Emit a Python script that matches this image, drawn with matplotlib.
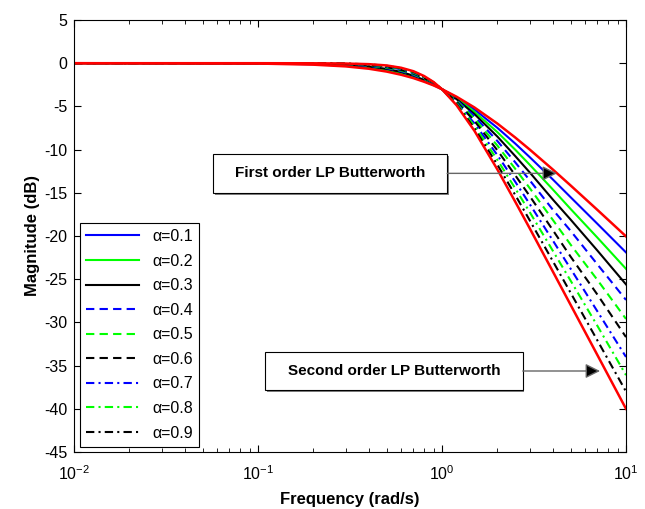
import matplotlib
matplotlib.use('Agg')
import matplotlib.pyplot as plt
from matplotlib.patches import Rectangle

plt.rcParams['font.family'] = ['Liberation Sans', 'DejaVu Sans']
plt.rcParams['mathtext.fontset'] = 'custom'
plt.rcParams['mathtext.rm'] = 'Liberation Sans'
plt.rcParams['axes.unicode_minus'] = False

# frequency points (rad/s)
w = [0.01, 0.1, 0.2, 0.3, 0.4, 0.5, 0.6, 0.7, 0.8, 0.9, 1.0,
     1.2, 1.5, 2.0, 2.5, 3.0, 4.0, 5.0, 7.0, 10.0]

# magnitude (dB)
first_order = [0, -0.04, -0.17, -0.37, -0.64, -0.97, -1.34, -1.73, -2.15, -2.57, -3.01,
               -3.88, -5.12, -6.99, -8.60, -10.0, -12.30, -14.15, -16.99, -20.04]
second_order = [0, 0, -0.01, -0.04, -0.11, -0.26, -0.53, -0.93, -1.49, -2.18, -3.01,
                -4.87, -7.82, -12.30, -16.03, -19.13, -24.10, -27.97, -33.80, -40.0]

alphas = [0.1, 0.2, 0.3, 0.4, 0.5, 0.6, 0.7, 0.8, 0.9]
mag_a01 = [0, -0.03, -0.12, -0.30, -0.54, -0.86, -1.22, -1.63, -2.08, -2.53, -3.01,
           -3.97, -5.36, -7.48, -9.30, -10.88, -13.45, -15.51, -18.6, -21.9]
mag_a02 = [0, -0.02, -0.09, -0.24, -0.46, -0.76, -1.11, -1.54, -2.00, -2.50, -3.01,
           -4.07, -5.62, -7.98, -10.01, -11.76, -14.61, -16.87, -20.2, -23.8]
mag_a03 = [0, -0.01, -0.07, -0.19, -0.38, -0.66, -1.02, -1.45, -1.94, -2.46, -3.01,
           -4.16, -5.88, -8.49, -10.75, -12.65, -15.77, -18.1, -21.7, -25.6]
mag_a04 = [0, -0.01, -0.05, -0.15, -0.32, -0.58, -0.93, -1.37, -1.87, -2.42, -3.01,
           -4.26, -6.14, -9.01, -11.47, -13.56, -16.95, -19.4, -23.3, -27.4]
mag_a05 = [0, 0, -0.03, -0.12, -0.27, -0.51, -0.85, -1.28, -1.80, -2.38, -3.01,
           -4.36, -6.41, -9.54, -12.22, -14.47, -18.13, -21.0, -25.1, -29.6]
mag_a06 = [0, 0, -0.03, -0.09, -0.23, -0.45, -0.78, -1.20, -1.73, -2.34, -3.01,
           -4.46, -6.68, -10.08, -12.97, -15.39, -19.31, -22.39, -26.8, -31.7]
mag_a07 = [0, 0, -0.02, -0.07, -0.19, -0.40, -0.71, -1.13, -1.67, -2.30, -3.01,
           -4.57, -6.96, -10.64, -13.72, -16.32, -20.51, -23.79, -28.74, -34.0]
mag_a08 = [0, 0, -0.01, -0.06, -0.16, -0.35, -0.64, -1.07, -1.61, -2.25, -3.01,
           -4.66, -7.25, -11.19, -14.49, -17.25, -21.70, -25.17, -30.42, -36.1]
mag_a09 = [0, 0, -0.01, -0.04, -0.13, -0.30, -0.58, -1.00, -1.55, -2.22, -3.01,
           -4.76, -7.54, -11.75, -15.25, -18.20, -22.90, -26.57, -32.11, -38.0]
mags = [mag_a01, mag_a02, mag_a03, mag_a04, mag_a05, mag_a06, mag_a07, mag_a08, mag_a09]

colors = ['b', '#00ff00', 'k'] * 3
styles = ['solid'] * 3 + [(0, (4, 2.5))] * 3 + [(0, (4, 2, 1, 2))] * 3

fig = plt.figure(figsize=(6.45, 5.09), dpi=100)
ax = fig.add_axes([74/645, 57/509, 552/645, 432/509])

for a, m, c, ls in zip(alphas, mags, colors, styles):
    ax.plot(w, m, color=c, linestyle=ls, lw=1.5, label='α=%.1f' % a)
ax.plot(w, first_order, color='r', lw=1.8)
ax.plot(w, second_order, color='r', lw=1.8)

ax.set_xscale('log')
ax.set_xlim(0.01, 10)
ax.set_ylim(-45, 5)
ax.set_yticks(range(-45, 6, 5))
ax.tick_params(which='both', direction='in', top=True, right=True, labelsize=11.5)
ax.tick_params(which='major', length=5)
ax.tick_params(which='minor', length=3)
ax.tick_params(axis='x', pad=9)
ax.tick_params(axis='y', pad=5)
ax.set_xlabel('Frequency (rad/s)', fontsize=12, fontweight='bold', labelpad=6)
ax.set_ylabel('Magnitude (dB)', fontsize=12, fontweight='bold', labelpad=3)

leg = ax.legend(loc='lower left', bbox_to_anchor=(0.011, 0.0116), borderaxespad=0,
                fancybox=False, framealpha=1, edgecolor='k', fontsize=11.5,
                handlelength=3.3, labelspacing=0.6, borderpad=0.4)
leg.get_frame().set_linewidth(0.8)

# annotation boxes
def note(x0, x1, y0, y1, text, tip):
    ax.add_patch(Rectangle((x0 + 0.003, y0 - 0.004), x1 - x0, y1 - y0,
                           transform=ax.transAxes, fc='0.5', ec='none', zorder=4))
    ax.add_patch(Rectangle((x0, y0), x1 - x0, y1 - y0, transform=ax.transAxes,
                           fc='white', ec='k', lw=0.8, zorder=5))
    ax.text((x0 + x1) / 2, (y0 + y1) / 2, text, transform=ax.transAxes,
            ha='center', va='center', fontsize=11, fontweight='bold', zorder=6)
    ym = (y0 + y1) / 2
    ax.annotate('', xy=(tip, ym), xytext=(x1, ym), xycoords='axes fraction',
                arrowprops=dict(arrowstyle='-|>', ec='0.4', fc='k', lw=1,
                                shrinkA=0, shrinkB=0, mutation_scale=22), zorder=6)

note(0.252, 0.676, 0.600, 0.690, 'First order LP Butterworth', 0.875)
note(0.346, 0.813, 0.1435, 0.2315, 'Second order LP Butterworth', 0.953)

plt.savefig('out.png', dpi=100)
